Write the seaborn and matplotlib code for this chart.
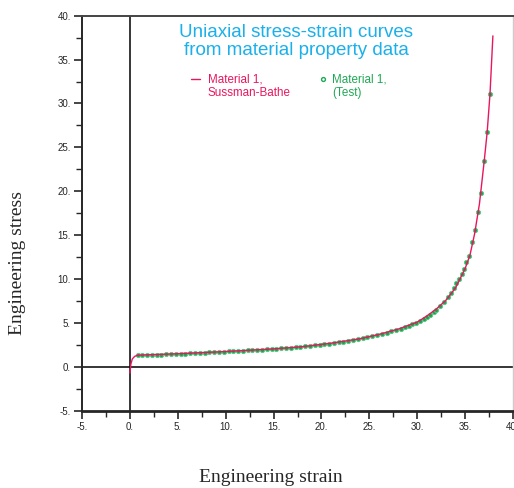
import numpy as np
import pandas as pd
import matplotlib
matplotlib.use('Agg')
import matplotlib.pyplot as plt
import seaborn as sns
from matplotlib.ticker import MultipleLocator, FormatStrFormatter

# Sussman-Bathe fit
fit_strain = [0.0, 0.1, 0.25, 0.5, 0.8, 2.0, 5.0, 10.0, 15.0, 18.0, 21.0, 24.0, 26.0,
              28.0, 29.0, 30.0, 31.0, 32.0, 33.0, 34.0, 35.0, 35.5, 36.0, 36.5, 37.0,
              37.3, 37.6, 37.9]
fit_stress = [-0.7, 0.3, 0.9, 1.2, 1.33, 1.38, 1.5, 1.75, 2.05, 2.3, 2.7, 3.2, 3.7,
              4.3, 4.7, 5.1, 5.8, 6.6, 7.6, 9.0, 11.2, 12.7, 15.2, 18.6, 23.5,
              26.7, 31.1, 37.7]

# test points
test_strain = [0.8, 1.3, 1.8, 2.3, 2.8, 3.3, 3.8, 4.3, 4.8, 5.3, 5.8, 6.3, 6.8, 7.3, 7.8,
               8.3, 8.8, 9.3, 9.8, 10.3, 10.8, 11.3, 11.8, 12.3, 12.8, 13.3, 13.8, 14.3,
               14.8, 15.3, 15.8, 16.3, 16.8, 17.3, 17.8, 18.3, 18.8, 19.3, 19.8, 20.3,
               20.8, 21.3, 21.8, 22.3, 22.8, 23.3, 23.8, 24.3, 24.8, 25.3, 25.8, 26.3,
               26.8, 27.3, 27.8, 28.3, 28.7, 29.1, 29.5, 29.9, 30.3, 30.7, 31.0, 31.3,
               31.7, 32.0, 32.4, 32.8, 33.2, 33.5, 33.8, 34.1, 34.4, 34.7, 34.9, 35.1,
               35.4, 35.7, 36.0, 36.35, 36.65, 37.0, 37.3, 37.6]
test_stress = [1.30, 1.32, 1.34, 1.36, 1.38, 1.40, 1.42, 1.45, 1.47, 1.50, 1.52, 1.55,
               1.57, 1.60, 1.62, 1.65, 1.68, 1.71, 1.74, 1.77, 1.80, 1.83, 1.86, 1.89,
               1.92, 1.95, 1.98, 2.01, 2.04, 2.08, 2.12, 2.16, 2.20, 2.25, 2.30, 2.35,
               2.40, 2.46, 2.52, 2.58, 2.65, 2.72, 2.80, 2.88, 2.97, 3.06, 3.16, 3.27,
               3.38, 3.50, 3.62, 3.76, 3.90, 4.05, 4.20, 4.37, 4.52, 4.68, 4.86, 5.04,
               5.23, 5.45, 5.68, 5.92, 6.2, 6.5, 6.9, 7.4, 7.95, 8.45, 9.0, 9.5, 10.0,
               10.6, 11.1, 11.9, 12.6, 14.2, 15.6, 17.6, 19.8, 23.5, 26.7, 31.1]

RED = '#e8175d'
GREEN = '#1fa855'
BLUE = '#1ab0ea'

sns.set_style('ticks')
plt.rcParams['font.family'] = ['Liberation Sans', 'DejaVu Sans']

fig = plt.figure(figsize=(5.14, 4.88), dpi=100)
ax = fig.add_axes([82 / 514, 1 - 410.8 / 488, (513 - 82) / 514, (410.8 - 15.7) / 488])

df_fit = pd.DataFrame({'strain': fit_strain, 'stress': fit_stress})
df_test = pd.DataFrame({'strain': test_strain, 'stress': test_stress})

ax.axhline(0, color='black', lw=1.1, zorder=1)
ax.axvline(0, color='black', lw=1.1, zorder=1)

sns.scatterplot(data=df_test, x='strain', y='stress', ax=ax, s=9, color='#2a9a52',
                edgecolor='#55cc85', linewidth=0.7, zorder=2)
sns.lineplot(data=df_fit, x='strain', y='stress', ax=ax, color=RED, lw=1.0,
             sort=False, zorder=3)

ax.set_xlim(-5, 40)
ax.set_ylim(-5, 40)
ax.xaxis.set_major_locator(MultipleLocator(5))
ax.xaxis.set_minor_locator(MultipleLocator(2.5))
ax.yaxis.set_major_locator(MultipleLocator(5))
ax.yaxis.set_minor_locator(MultipleLocator(2.5))
ax.xaxis.set_major_formatter(FormatStrFormatter('%g.'))
ax.yaxis.set_major_formatter(FormatStrFormatter('%g.'))
ax.tick_params(which='major', length=6, width=1.2, labelsize=7, direction='out', pad=2)
ax.tick_params(which='minor', length=4, width=1.0, direction='out')

ax.spines['left'].set_linewidth(1.4)
ax.spines['bottom'].set_linewidth(2.0)
ax.spines['top'].set_visible(True)
ax.spines['top'].set_color('#444444')
ax.spines['top'].set_linewidth(1.4)
ax.spines['right'].set_visible(True)
ax.spines['right'].set_color('#cccccc')
ax.spines['right'].set_linewidth(1.0)
ax.set_xlabel('')
ax.set_ylabel('')

# title inside the axes
fig.text(296 / 514, 1 - 24 / 488, 'Uniaxial stress-strain curves\nfrom material property data',
         ha='center', va='top', color=BLUE, fontsize=13.5, linespacing=1.08)

# legend drawn by hand
ax.plot([191 / 514, 200 / 514], [1 - 79 / 488] * 2, transform=fig.transFigure,
        color=RED, lw=1.0)
fig.text(208 / 514, 1 - 86 / 488, 'Material 1,\nSussman-Bathe', color=RED, fontsize=8.4,
         ha='left', va='center', linespacing=1.15)
ax.plot([322.5 / 514], [1 - 79 / 488], transform=fig.transFigure, marker='o', ms=2.8,
        mfc='none', mec=GREEN, mew=1.0)
fig.text(332 / 514, 1 - 86 / 488, 'Material 1,\n(Test)', color=GREEN, fontsize=8.4,
         ha='left', va='center', linespacing=1.15)

fig.text(18 / 514, 1 - 263 / 488, 'Engineering stress', rotation=90, ha='center',
         va='center', fontsize=14, family=['Liberation Serif', 'DejaVu Serif'])
fig.text(271 / 514, 1 - 478 / 488, 'Engineering strain', ha='center', va='center',
         fontsize=14, family=['Liberation Serif', 'DejaVu Serif'])

fig.savefig('out.png', dpi=100)
